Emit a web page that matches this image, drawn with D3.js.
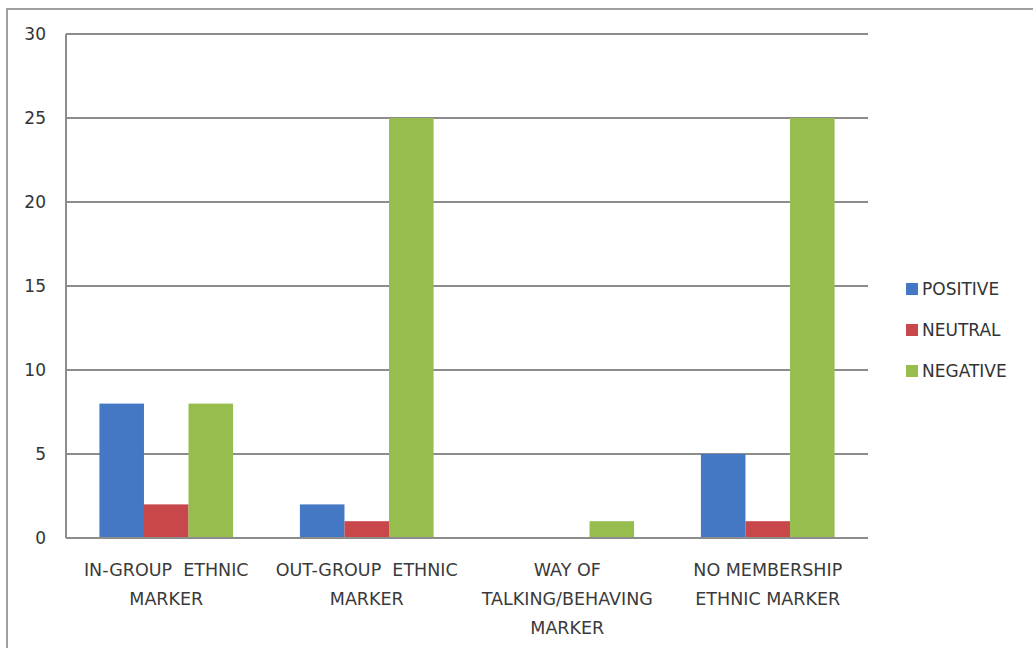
<!DOCTYPE html>
<html><head><meta charset="utf-8">
<script src="https://cdn.jsdelivr.net/npm/d3@7"></script>
<style>body{margin:0;background:#fff}svg text{font-family:"DejaVu Sans",Verdana,sans-serif}</style>
</head><body><svg id="c" width="1033" height="648"></svg>
<script>
const categories = [["IN-GROUP  ETHNIC","MARKER"],["OUT-GROUP  ETHNIC","MARKER"],["WAY OF","TALKING/BEHAVING","MARKER"],["NO MEMBERSHIP","ETHNIC MARKER"]];
const seriesNames = ["POSITIVE","NEUTRAL","NEGATIVE"];
const positive = [8,2,0,5];
const neutral = [2,1,0,1];
const negative = [8,25,1,25];
const yTicks = [0,5,10,15,20,25,30];
const colors = ["#4477c4","#c8474a","#97bd4f"];

const svg = d3.select("#c");
svg.append("rect").attr("x",7).attr("y",9).attr("width",1040).attr("height",660)
  .attr("fill","none").attr("stroke","#a0a0a0").attr("stroke-width",2);

const L=66,R=868,T=34,B=538;
const y = d3.scaleLinear().domain([0,30]).range([B,T]);
const x0 = d3.scaleBand().domain(d3.range(categories.length)).range([L,R]).paddingInner(1/3).paddingOuter(1/6);
const x1 = d3.scaleBand().domain(d3.range(3)).range([0,x0.bandwidth()]);

svg.append("g").selectAll("line").data(yTicks).join("line")
  .attr("x1",L).attr("x2",R).attr("y1",d=>y(d)).attr("y2",d=>y(d))
  .attr("stroke","#8c8c8c").attr("stroke-width",2);
svg.append("line").attr("x1",L).attr("x2",L).attr("y1",T).attr("y2",B).attr("stroke","#8c8c8c").attr("stroke-width",2);
svg.append("g").selectAll("text").data(yTicks).join("text")
  .attr("x",46).attr("y",d=>y(d)).attr("dy","0.35em").attr("text-anchor","end")
  .attr("font-size",17).attr("fill","#333").text(d=>d);

const data = [positive,neutral,negative];
const g = svg.append("g");
data.forEach((vals,si)=>{
  g.selectAll(null).data(vals).join("rect")
    .attr("x",(d,i)=>x0(i)+x1(si)).attr("width",x1.bandwidth())
    .attr("y",d=>y(d)).attr("height",d=>B-y(d)).attr("fill",colors[si]);
});
svg.append("line").attr("x1",L).attr("x2",R).attr("y1",B).attr("y2",B).attr("stroke","#8c8c8c").attr("stroke-width",2);

categories.forEach((lines,i)=>{
  const t = svg.append("text").attr("text-anchor","middle").attr("font-size",17.5).attr("fill","#3a3a3a")
    .attr("style","white-space:pre");
  lines.forEach((ln,j)=>t.append("tspan").attr("x",x0(i)+x0.bandwidth()/2).attr("y",576+j*29).text(ln));
});

const lg = svg.append("g");
seriesNames.forEach((n,i)=>{
  const yy = 289+i*41;
  lg.append("rect").attr("x",906).attr("y",yy-6).attr("width",12).attr("height",12).attr("fill",colors[i]);
  lg.append("text").attr("x",922).attr("y",yy).attr("dy","0.35em").attr("font-size",17).attr("fill","#333").text(n);
});
</script></body></html>
